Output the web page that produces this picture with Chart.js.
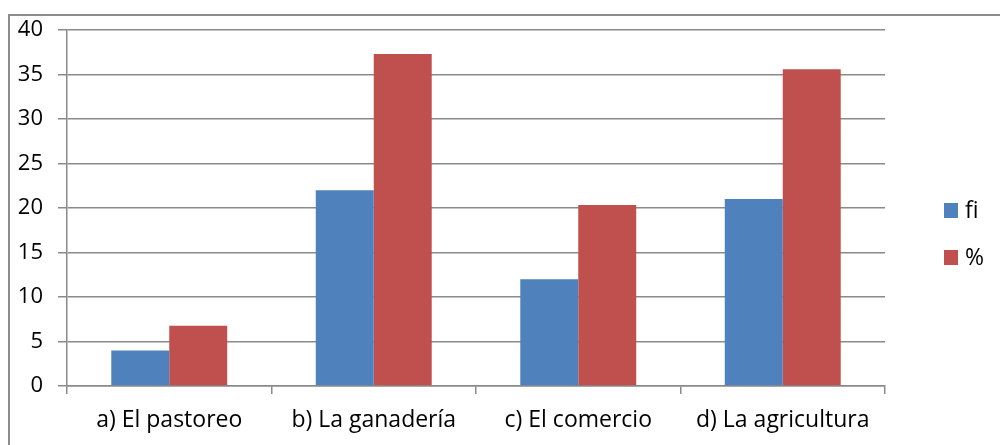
<!DOCTYPE html>
<html>
<head>
<meta charset="utf-8">
<script src="https://cdn.jsdelivr.net/npm/chart.js@4.4.1/dist/chart.umd.min.js"></script>
<style>
  html, body { margin: 0; padding: 0; background: #fff; }
  #wrap { width: 1000px; height: 445px; position: relative; }
</style>
</head>
<body>
<div id="wrap"><canvas id="chart" width="1000" height="445"></canvas></div>
<script>
const categories = ["a) El pastoreo", "b) La ganadería", "c) El comercio", "d) La agricultura"]
const fiValues = [4, 22, 12, 21]
const pctValues = [6.78, 37.29, 20.34, 35.59]
const yTicks = [0, 5, 10, 15, 20, 25, 30, 35, 40]

const FONT = "'Open Sans', sans-serif"
const GRID = "#8a8a8a"

// outer frame + hand-placed legend like the original sheet chart
let Frame = {
  id: "frame",
  beforeDraw(chart) {
    const ctx = chart.ctx
    ctx.save()
    ctx.strokeStyle = "#8c8c8c"
    ctx.lineWidth = 2
    ctx.strokeRect(9, 15, 1000, 445)
    ctx.restore()
  },
  afterDraw(chart) {
    const ctx = chart.ctx
    ctx.save()
    ctx.font = "23px " + FONT
    ctx.textBaseline = "middle"
    chart.data.datasets.forEach((ds, i) => {
      const y = 210 + i * 47
      ctx.fillStyle = ds.backgroundColor
      ctx.fillRect(944, y - 7, 14, 15)
      ctx.fillStyle = "#000"
      ctx.fillText(ds.label, 965, y + 1)
    })
    ctx.restore()
  }
}

new Chart(document.getElementById("chart"), {
  type: "bar",
  data: {
    labels: categories,
    datasets: [
      { label: "fi", data: fiValues, backgroundColor: "#4F81BD" },
      { label: "%", data: pctValues, backgroundColor: "#C0504D" }
    ]
  },
  options: {
    responsive: false,
    animation: false,
    devicePixelRatio: 1,
    layout: { padding: { left: 0, top: 30, right: 115, bottom: 0 } },
    plugins: { legend: { display: false }, tooltip: { enabled: false } },
    datasets: { bar: { categoryPercentage: 0.567, barPercentage: 1.0 } },
    scales: {
      x: {
        afterFit: s => { s.height = 59 },
        grid: { offset: true, drawOnChartArea: false, drawTicks: true, tickLength: 8, color: GRID, lineWidth: 1.5 },
        border: { color: GRID, width: 1.5 },
        ticks: { color: "#000", font: { family: FONT, size: 23 }, padding: 13, maxRotation: 0 }
      },
      y: {
        min: 0, max: 40,
        afterFit: s => { s.width = 67 },
        afterBuildTicks: s => { s.ticks = yTicks.map(v => ({ value: v })) },
        grid: { color: GRID, lineWidth: 1.5, tickLength: 9 },
        border: { color: GRID, width: 1.5 },
        ticks: { color: "#000", font: { family: FONT, size: 22 }, padding: 15 }
      }
    }
  },
  plugins: [Frame]
})
</script>
</body>
</html>
